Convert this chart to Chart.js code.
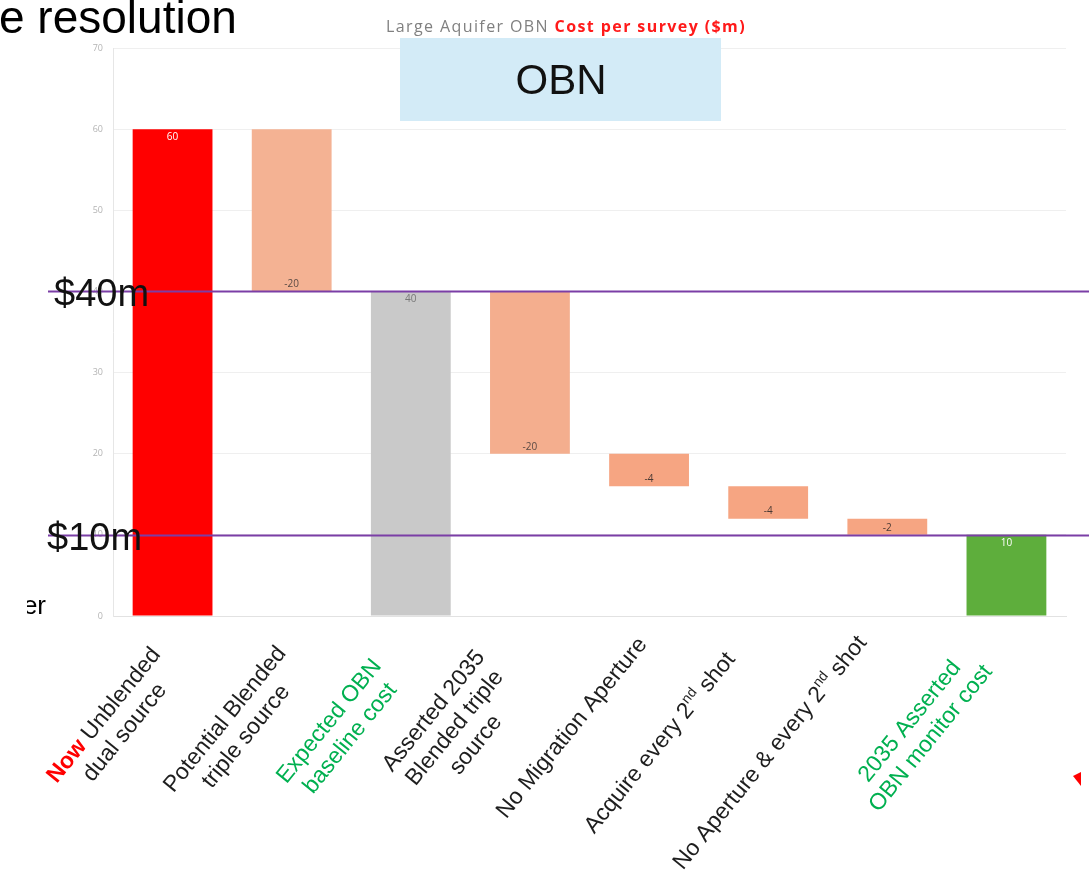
<!DOCTYPE html>
<html>
<head>
<meta charset="utf-8">
<script src="https://cdn.jsdelivr.net/npm/chart.js@4.4.1/dist/chart.umd.min.js"></script>
<style>
  html, body { margin: 0; padding: 0; background: #fff; }
  #wrap { width: 1089px; height: 880px; position: relative; }
</style>
</head>
<body>
<div id="wrap"><canvas id="c" width="1089" height="880"></canvas></div>
<script>
// Waterfall: survey cost steps ($m)
const categories = [
  ['Unblended', 'dual source'],
  ['Potential Blended', 'triple source'],
  ['Expected OBN', 'baseline cost'],
  ['Asserted 2035', 'Blended triple', 'source'],
  ['No Migration Aperture'],
  ['Acquire every 2nd shot'],
  ['No Aperture & every 2nd shot'],
  ['2035 Asserted', 'OBN monitor cost']
];
const labelPrefixes = ['Now', '', '', '', '', '', '', ''];
const steps = [60, -20, 40, -20, -4, -4, -2, 10];
const isTotal = [true, false, true, false, false, false, false, true];
const yTicks = [0, 10, 20, 30, 40, 50, 60, 70];
const refValues = [40, 10];
const refLabels = ['$40m', '$10m'];
const chartTitle = ['Large Aquifer OBN ', 'Cost per survey ($m)'];
const boxText = 'OBN';

// styling
const barColors = ['#ff0000', '#f4b293', '#c9c9c9', '#f4ae8e', '#f6a582', '#f6a582', '#f6a582', '#5eae3c'];
const valueColors = ['#ffffff', '#5a4a44', '#777777', '#5a4a44', '#4a3a34', '#4a3a34', '#4a3a34', '#ffffff'];
const labelColors = ['#1e1e1e', '#1e1e1e', '#00b050', '#1e1e1e', '#1e1e1e', '#1e1e1e', '#1e1e1e', '#00b050'];
// centre of each rotated label block, relative to its category centre
const labelOffsets = [[-58, 108], [-56, 112], [-71, 114], [-75, 112], [-77, 112], [-108, 127], [-117, 137], [-86, 114]];

// floating ranges for the waterfall
const ranges = [];
let running = 0;
steps.forEach((v, i) => {
  if (isTotal[i]) { ranges.push([0, v]); running = v; }
  else { ranges.push([running, running + v]); running += v; }
});

const LABEL_FONT = 'Liberation Sans, Arial, sans-serif';
const ROT = -51 * Math.PI / 180;

function lineSegments(text, prefix) {
  const segs = [];
  if (prefix) segs.push({ t: prefix + ' ', bold: true, color: '#ff0000' });
  const re = /(\d)(st|nd|rd|th)\b/g;
  let last = 0, m;
  while ((m = re.exec(text)) !== null) {
    segs.push({ t: text.slice(last, m.index + 1) });
    segs.push({ t: m[2], sup: true });
    last = m.index + m[0].length;
  }
  segs.push({ t: text.slice(last) });
  return segs;
}

const overlay = {
  id: 'overlay',
  afterDatasetsDraw(chart) {
    const ctx = chart.ctx;
    const meta = chart.getDatasetMeta(0);
    ctx.save();
    ctx.font = '10px "Open Sans", sans-serif';
    ctx.textAlign = 'center';
    meta.data.forEach((el, i) => {
      const top = Math.min(el.y, el.base), bottom = Math.max(el.y, el.base);
      ctx.fillStyle = valueColors[i];
      ctx.textBaseline = 'middle';
      const ty = isTotal[i] ? top + 8 : bottom - 7;
      ctx.fillText(String(steps[i]), el.x, ty);
    });
    ctx.restore();
  },
  afterDraw(chart) {
    const ctx = chart.ctx;
    const xs = chart.scales.x, ys = chart.scales.y;
    ctx.save();

    // reference lines
    refValues.forEach((v, i) => {
      const py = Math.round(ys.getPixelForValue(v)) + 0.5;
      ctx.strokeStyle = '#7b3ea6';
      ctx.lineWidth = 2;
      ctx.beginPath();
      ctx.moveTo(48, py);
      ctx.lineTo(1089, py);
      ctx.stroke();
      ctx.fillStyle = '#111';
      ctx.font = '38px ' + LABEL_FONT;
      ctx.textAlign = 'left';
      ctx.textBaseline = 'alphabetic';
      ctx.fillText(refLabels[i], i === 0 ? 54 : 47, py + 14);
    });

    // highlight box
    ctx.fillStyle = '#d3ebf7';
    ctx.fillRect(400, 38, 321, 83);
    ctx.fillStyle = '#111';
    ctx.font = '42px ' + LABEL_FONT;
    ctx.textAlign = 'center';
    ctx.textBaseline = 'middle';
    ctx.fillText(boxText, 561, 82);

    // chart title
    ctx.textBaseline = 'alphabetic';
    ctx.textAlign = 'left';
    ctx.letterSpacing = '1.4px';
    ctx.font = '16px "Open Sans", sans-serif';
    const w1 = ctx.measureText(chartTitle[0]).width;
    ctx.font = 'bold 16px "Open Sans", sans-serif';
    const w2 = ctx.measureText(chartTitle[1]).width;
    let tx = 566 - (w1 + w2) / 2;
    ctx.font = '16px "Open Sans", sans-serif';
    ctx.fillStyle = '#808080';
    ctx.fillText(chartTitle[0], tx, 32);
    ctx.font = 'bold 16px "Open Sans", sans-serif';
    ctx.fillStyle = '#ff1a1a';
    ctx.fillText(chartTitle[1], tx + w1, 32);
    ctx.letterSpacing = '0px';

    // slide heading fragment
    ctx.fillStyle = '#000';
    ctx.font = '46px ' + LABEL_FONT;
    ctx.fillText('e resolution', -1, 33);

    // side fragments
    ctx.save();
    ctx.beginPath();
    ctx.rect(27, 580, 40, 40);
    ctx.clip();
    ctx.font = '26px ' + LABEL_FONT;
    ctx.textAlign = 'right';
    ctx.fillText('er', 46, 614);
    ctx.restore();
    ctx.fillStyle = '#ff0000';
    ctx.beginPath();
    ctx.moveTo(1073, 776);
    ctx.lineTo(1081, 772);
    ctx.lineTo(1081, 786);
    ctx.closePath();
    ctx.fill();

    // rotated category labels
    const size = 23, lh = 27;
    categories.forEach((lines, i) => {
      const cx = xs.getPixelForValue(i) + labelOffsets[i][0];
      const cy = ys.bottom + labelOffsets[i][1];
      ctx.save();
      ctx.translate(cx, cy);
      ctx.rotate(ROT);
      ctx.textBaseline = 'middle';
      ctx.textAlign = 'left';
      lines.forEach((text, j) => {
        const segs = lineSegments(text, j === 0 ? labelPrefixes[i] : '');
        const fontOf = s => (s.bold ? 'bold ' : '') + (s.sup ? Math.round(size * 0.6) : size) + 'px ' + LABEL_FONT;
        let w = 0;
        segs.forEach(s => { ctx.font = fontOf(s); s.w = ctx.measureText(s.t).width; w += s.w; });
        let x = -w / 2;
        const y = (j - (lines.length - 1) / 2) * lh;
        segs.forEach(s => {
          ctx.font = fontOf(s);
          ctx.fillStyle = s.color || labelColors[i];
          ctx.fillText(s.t, x, s.sup ? y - size * 0.3 : y);
          x += s.w;
        });
      });
      ctx.restore();
    });

    ctx.restore();
  }
};

new Chart(document.getElementById('c'), {
  type: 'bar',
  data: {
    labels: categories.map(l => l.join(' ')),
    datasets: [{
      data: ranges,
      backgroundColor: barColors,
      borderWidth: 0,
      barPercentage: 0.67,
      categoryPercentage: 1
    }]
  },
  options: {
    responsive: false,
    animation: false,
    layout: { padding: { top: 48, right: 23, left: 0, bottom: 0 } },
    plugins: { legend: { display: false }, tooltip: { enabled: false }, title: { display: false } },
    scales: {
      x: {
        grid: { display: false },
        border: { color: '#e2e2e2' },
        ticks: { display: false },
        afterFit(s) { s.height = 264; }
      },
      y: {
        min: 0, max: 70,
        afterFit(s) { s.width = 113; },
        afterBuildTicks(s) { s.ticks = yTicks.map(v => ({ value: v })); },
        ticks: { color: '#b4b4b4', font: { size: 9, family: 'Open Sans' }, padding: 10 },
        grid: { color: '#efefef', drawTicks: false },
        border: { color: '#e6e6e6' }
      }
    }
  },
  plugins: [overlay]
});
</script>
</body>
</html>
